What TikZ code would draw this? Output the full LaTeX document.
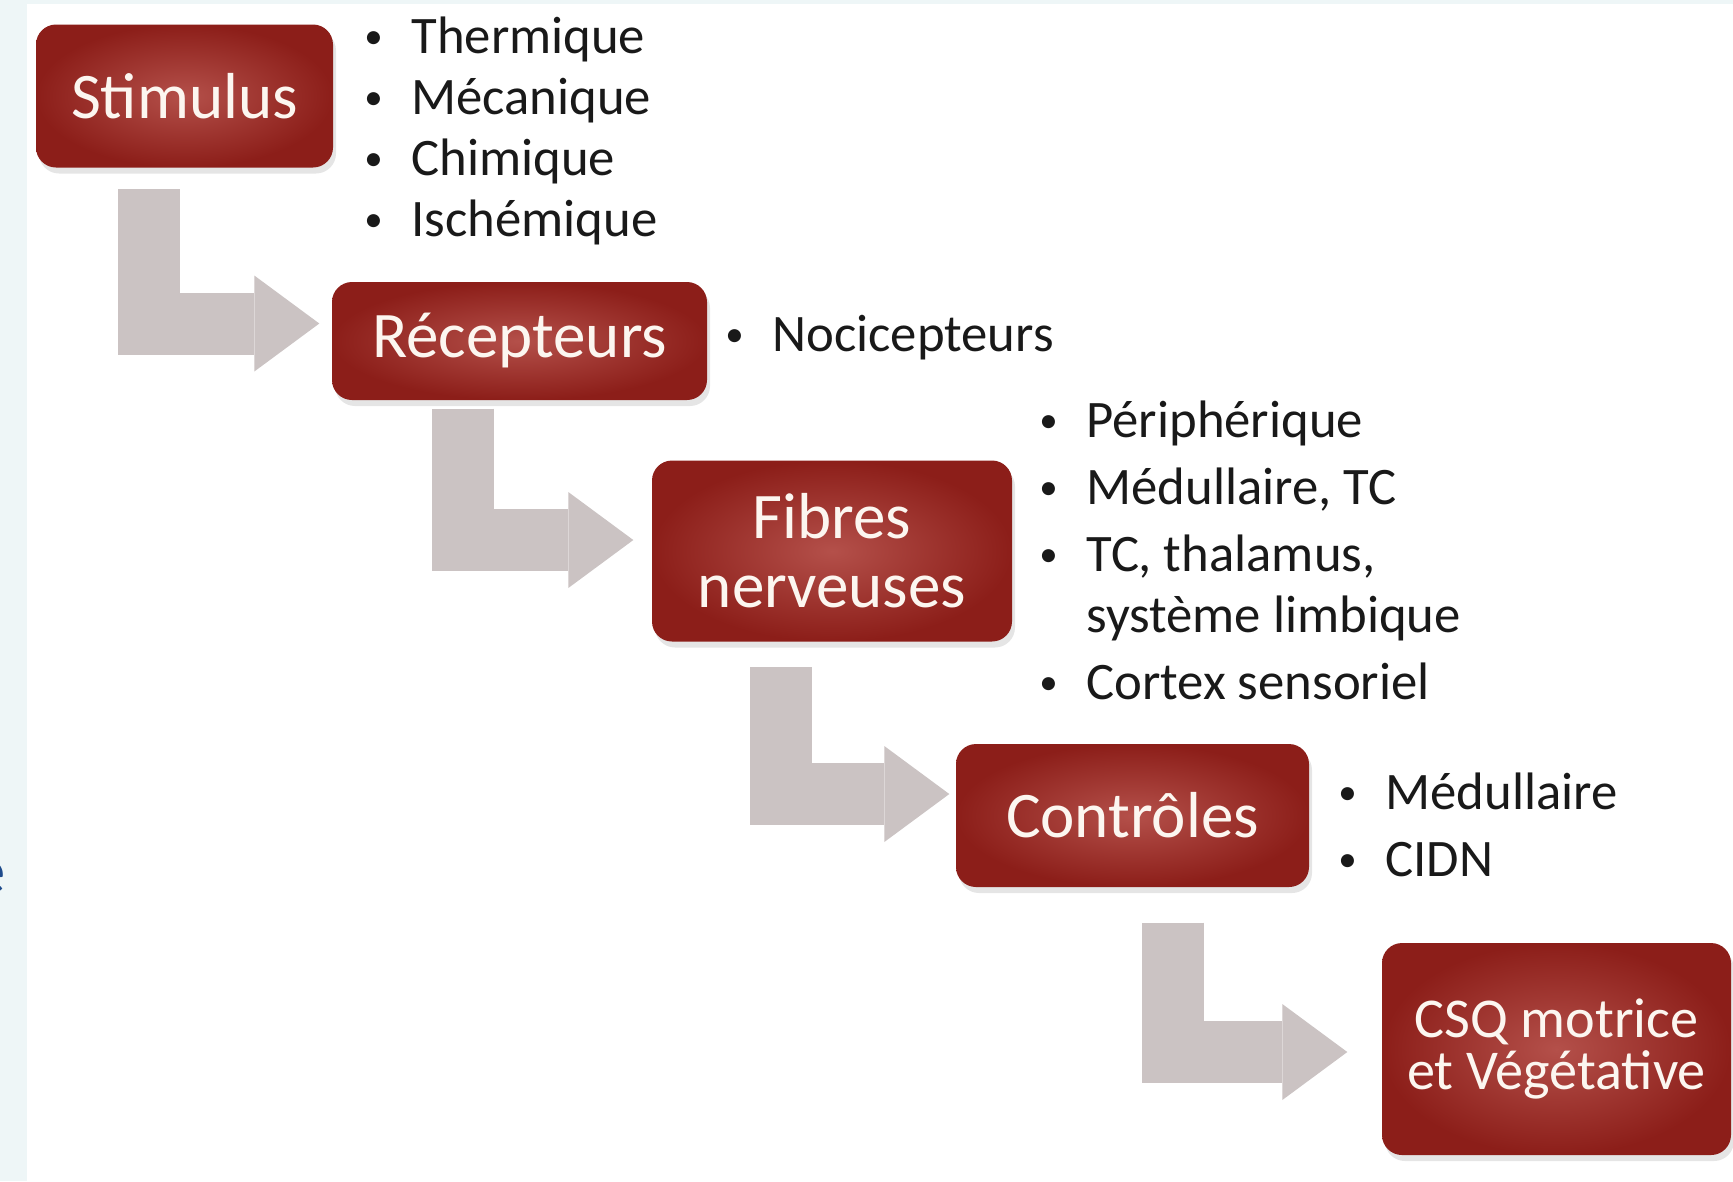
\documentclass[tikz,border=0pt]{standalone}
\usepackage{fontspec}
\setmainfont{Carlito}
\usetikzlibrary{positioning,calc,arrows.meta,shadows}

\definecolor{boxdark}{RGB}{140,30,25}
\definecolor{boxlight}{RGB}{180,80,74}
\definecolor{boxtext}{RGB}{252,246,240}
\definecolor{arrowgray}{RGB}{203,195,195}
\definecolor{stripblue}{RGB}{238,246,247}
\definecolor{titleblue}{RGB}{30,75,140}

\newcommand{\bul}{\raisebox{1.5pt}{\fontsize{10.5}{10.5}\selectfont\textbullet}}
\newcommand{\itm}[1]{\strut\makebox[4.7mm][l]{\bul}#1}
\newcommand{\cont}[1]{\strut\hspace*{4.7mm}#1}

\tikzset{
	stage/.style={rounded corners=2mm, inner color=boxlight, outer color=boxdark,
		text=boxtext, align=center, inner sep=0pt,
		drop shadow={shadow xshift=0.3mm, shadow yshift=-0.6mm, opacity=0.2},
		font=\fontsize{18.5}{19.6}\selectfont},
	items/.style={anchor=north west, inner sep=0pt, align=left, text=black!90,
		font=\fontsize{15}{17.4}\selectfont},
	flow/.style={draw=arrowgray, line width=6.2mm, line join=miter,
		-{Triangle[width=9.6mm, length=6.5mm, line width=0pt]}},
}

\begin{document}
\begin{tikzpicture}[x=0.1mm, y=-0.1mm]
		\useasboundingbox (0,0) rectangle (1733,1181);
		\fill[white] (0,0) rectangle (1733,1181);
		\fill[stripblue] (0,0) rectangle (27,1181);
		\fill[stripblue] (0,0) rectangle (1733,4);
		\node[anchor=base east, inner sep=0pt, text=titleblue, font=\fontsize{19}{19}\selectfont] (title) at (6,893) {e};
		%
		\node[stage, minimum width=29.7mm, minimum height=14.3mm] (stim) at (184.5,96) {Stimulus};
		\node[stage, minimum width=37.5mm, minimum height=11.8mm] (rec) at (519.5,341) {Récepteurs};
		\node[stage, minimum width=36mm, minimum height=18.1mm] (fib) at (832,551) {Fibres\\nerveuses};
		\node[stage, minimum width=35.3mm, minimum height=14.3mm] (ctl) at (1132.5,815.5) {Contrôles};
		\node[stage, minimum width=34.9mm, minimum height=21.2mm, font=\fontsize{16}{15}\selectfont] (csq) at (1556.5,1049) {CSQ motrice\\et Végétative};
		%
		\node[items] (stimlist) at ($(stim.north east)+(30,-14)$) {\itm{Thermique}\\\itm{Mécanique}\\\itm{Chimique}\\\itm{Ischémique}};
		\node[items] (reclist) at ($(rec.north east)+(17,27)$) {\itm{Nocicepteurs}};
		\node[items] (fiblist) at ($(fib.north east)+(26,-66)$) {\itm{Périphérique}\\[1.7pt]\itm{Médullaire, TC}\\[1.7pt]\itm{TC, thalamus,}\\\cont{système limbique}\\[1.7pt]\itm{Cortex sensoriel}};
		\node[items] (ctllist) at ($(ctl.north east)+(28,23)$) {\itm{Médullaire}\\[1.7pt]\itm{CIDN}};
		%
		\draw[flow] ([xshift=11.35mm, yshift=-2.1mm]stim.south west) |- ([xshift=-1.2mm, yshift=1.75mm]rec.west);
		\draw[flow] ([xshift=13.2mm, yshift=-0.8mm]rec.south west) |- ([xshift=-1.8mm, yshift=1.1mm]fib.west);
		\draw[flow] ([xshift=12.95mm, yshift=-2.5mm]fib.south west) |- ([xshift=-0.6mm, yshift=2.15mm]ctl.west);
		\draw[flow] ([xshift=21.8mm, yshift=-3.5mm]ctl.south west) |- ([xshift=-3.4mm, yshift=-0.3mm]csq.west);
\end{tikzpicture}
\end{document}
